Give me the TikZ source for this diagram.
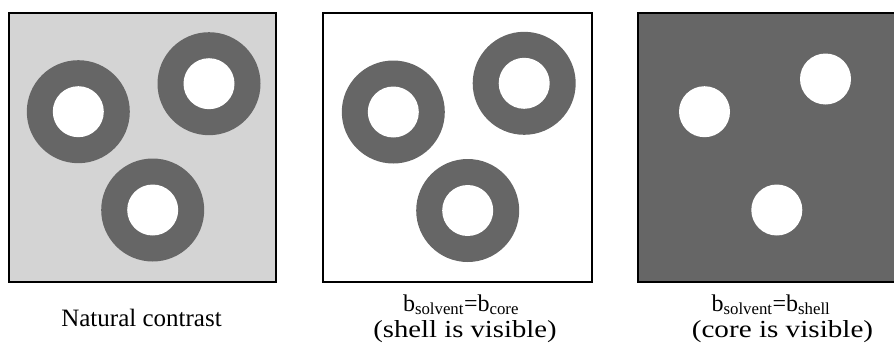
\documentclass[tikz,border=0pt]{standalone}
\usepackage{fontspec}
\setmainfont{Liberation Serif}
\usepackage{tikz}
\definecolor{shellgray}{HTML}{666666}
\definecolor{lightgray}{HTML}{D4D4D4}

\begin{document}
\begin{tikzpicture}[x=1pt, y=-1pt,
  frame/.style={draw=black, line width=2.5pt},
  shell/.style={fill=shellgray},
  core/.style={fill=white},
  caption/.style={anchor=base, inner sep=0pt, font=\fontsize{24}{28}\selectfont},
  note/.style={anchor=base, inner sep=0pt, font=\fontsize{24.5}{28}\selectfont}
]
\clip (0,0) rectangle (894,343);
% natural contrast
\fill[lightgray] (9,13) rectangle (276,282);
\fill[shell] (78.3,111.7) circle[radius=51.5pt]; \fill[core] (78.3,111.7) circle[radius=25.5pt];
\fill[shell] (209,83.7) circle[radius=51.5pt]; \fill[core] (209,83.7) circle[radius=25.5pt];
\fill[shell] (152.7,210) circle[radius=51.5pt]; \fill[core] (152.7,210) circle[radius=25.5pt];
\draw[frame] (9,13) rectangle (276,282);
% solvent matched to core
\fill[shell] (393.3,112) circle[radius=51.5pt]; \fill[core] (393.3,112) circle[radius=25.5pt];
\fill[shell] (524.2,83.3) circle[radius=51.5pt]; \fill[core] (524.2,83.3) circle[radius=25.5pt];
\fill[shell] (467.7,210.5) circle[radius=51.5pt]; \fill[core] (467.7,210.5) circle[radius=25.5pt];
\draw[frame] (323,13) rectangle (592,282);
% solvent matched to shell
\fill[shellgray] (638,13) rectangle (920,282);
\fill[core] (704.5,111.7) circle[radius=25.5pt];
\fill[core] (825.5,79) circle[radius=25.5pt];
\fill[core] (776.8,210) circle[radius=25.5pt];
\draw[frame] (638,13) rectangle (920,282);

\node[caption, font=\fontsize{25}{30}\selectfont] (natural) at (141.5,326.7) {Natural contrast};
\node[caption] (coreEq) at (461,311) {b\textsubscript{solvent}=b\textsubscript{core}};
\node[note] (coreNote) at (465,337.5) {\scalebox{1.17}[1]{(shell is visible)}};
\node[caption] (shellEq) at (771,311) {b\textsubscript{solvent}=b\textsubscript{shell}};
\node[note] (shellNote) at (782.5,337.5) {\scalebox{1.19}[1]{(core is visible)}};
\end{tikzpicture}
\end{document}
